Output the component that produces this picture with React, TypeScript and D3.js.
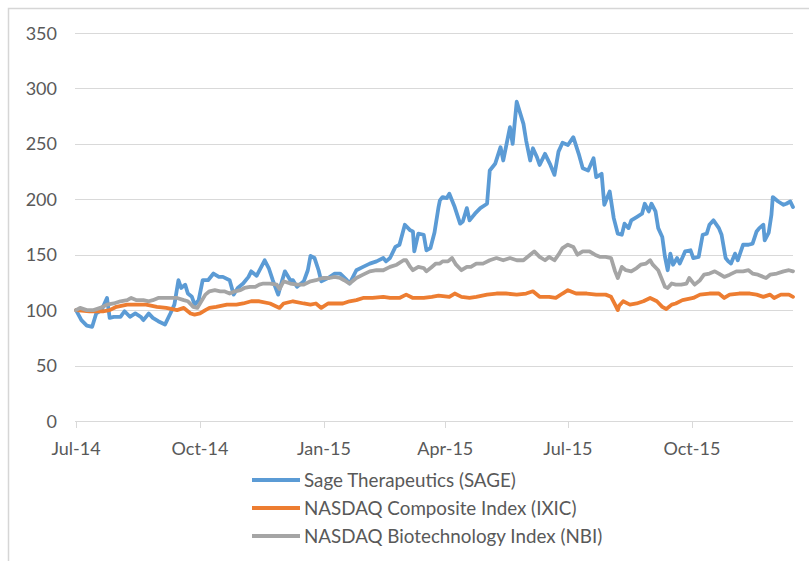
import * as d3 from 'd3';

// DATES
const startDate = new Date(2014, 6, 1);
const endDate = new Date(2015, 11, 15);

// SAGE THERAPEUTICS (days after Jul 1 2014, indexed value)
const sageDays = [
  0, 4, 8, 12, 15, 19, 23, 25, 28, 33, 36, 40, 44, 48, 50, 54, 57, 61, 66, 70,
  73, 76, 78, 81, 83, 86, 88, 91, 94, 98, 102, 106, 109, 114, 117, 120, 124, 128, 130, 134,
  140, 143, 146, 150, 153, 155, 159, 161, 164, 169, 172, 174, 177, 180, 182, 187, 192, 196, 201, 203,
  208, 213, 218, 223, 228, 230, 233, 237, 240, 244, 248, 250, 251, 254, 258, 260, 263, 266, 269, 270,
  272, 275, 277, 281, 285, 287, 290, 292, 296, 300, 305, 307, 311, 315, 317, 322, 324, 327, 329, 332,
  334, 337, 339, 342, 344, 348, 352, 355, 358, 361, 365, 369, 373, 376, 380, 384, 386, 390, 392, 396,
  399, 402, 405, 407, 410, 412, 416, 420, 422, 425, 427, 430, 432, 435, 437, 439, 441, 443, 446, 448,
  452, 456, 458, 462, 465, 468, 470, 473, 477, 479, 482, 484, 486, 489, 491, 495, 499, 502, 505, 507,
  510, 511, 514, 516, 517, 521, 525, 527, 530, 532,
];
const sageValues = [
  100, 91, 86, 85, 97, 100, 111, 93, 94, 94, 99, 94, 97, 94, 91, 97, 93, 90, 87, 97,
  105, 127, 120, 123, 115, 112, 105, 109, 127, 127, 133, 130, 130, 127, 114, 120, 124, 130, 135, 131,
  145, 138, 127, 114, 127, 135, 127, 127, 121, 126, 136, 149, 147, 136, 126, 129, 133, 133, 127, 124,
  136, 139, 142, 144, 147, 144, 147, 157, 159, 177, 172, 171, 153, 169, 168, 154, 156, 170, 193, 199,
  202, 201, 205, 193, 178, 180, 192, 181, 187, 192, 196, 226, 232, 247, 235, 265, 250, 288, 280, 268,
  253, 235, 246, 238, 231, 241, 231, 222, 243, 251, 249, 256, 241, 228, 226, 237, 220, 223, 195, 207,
  183, 169, 168, 178, 174, 181, 184, 187, 196, 189, 196, 189, 174, 166, 148, 136, 151, 141, 147, 142,
  153, 154, 147, 148, 168, 169, 177, 181, 174, 168, 147, 144, 142, 151, 145, 159, 159, 160, 171, 174,
  177, 163, 170, 186, 202, 198, 195, 196, 198, 193,
];

// NASDAQ COMPOSITE
const ixicDays = [
  0, 10, 20, 25, 30, 38, 45, 52, 60, 67, 75, 80, 85, 88, 92, 96, 99, 104, 112, 119,
  124, 130, 136, 144, 151, 154, 161, 169, 174, 178, 182, 187, 193, 198, 203, 208, 213, 220, 228, 233,
  240, 245, 250, 258, 264, 269, 277, 281, 286, 292, 297, 305, 312, 319, 327, 334, 339, 344, 351, 356,
  361, 365, 371, 379, 386, 393, 397, 400, 402, 403, 406, 411, 416, 421, 426, 431, 435, 438, 442, 445,
  450, 458, 463, 470, 477, 481, 485, 492, 500, 505, 510, 515, 518, 523, 529, 532,
];
const ixicValues = [
  100, 99, 99, 100, 103, 105, 105, 105, 103, 102, 100, 102, 97, 96, 97, 100, 102, 103, 105, 105,
  106, 108, 108, 106, 102, 106, 108, 106, 105, 106, 102, 106, 106, 106, 108, 109, 111, 111, 112, 111,
  111, 114, 111, 111, 112, 113, 112, 115, 112, 111, 112, 114, 115, 115, 114, 115, 117, 112, 112, 111,
  115, 118, 115, 115, 114, 114, 112, 105, 100, 104, 108, 105, 106, 108, 111, 108, 103, 101, 105, 106,
  109, 111, 114, 115, 115, 111, 114, 115, 115, 114, 112, 114, 111, 114, 114, 112,
];

// NASDAQ BIOTECHNOLOGY
const nbiDays = [
  0, 3, 8, 13, 18, 23, 28, 33, 38, 41, 45, 50, 54, 57, 61, 66, 70, 75, 80, 83,
  87, 90, 92, 96, 99, 103, 107, 110, 114, 118, 122, 125, 129, 133, 136, 139, 144, 149, 151, 154,
  159, 164, 169, 174, 178, 183, 188, 192, 196, 199, 203, 208, 213, 218, 223, 228, 233, 238, 243, 245,
  248, 250, 254, 258, 260, 264, 267, 270, 272, 276, 279, 282, 286, 290, 293, 297, 302, 307, 312, 317,
  322, 327, 332, 337, 340, 344, 348, 351, 355, 358, 361, 365, 369, 372, 376, 381, 385, 389, 393, 397,
  400, 402, 405, 408, 412, 416, 419, 423, 426, 428, 432, 434, 437, 439, 442, 445, 449, 453, 455, 459,
  463, 466, 470, 474, 477, 481, 485, 490, 495, 499, 502, 506, 510, 512, 515, 520, 525, 529, 532,
];
const nbiValues = [
  100, 102, 100, 100, 102, 105, 106, 108, 109, 111, 109, 109, 108, 109, 111, 111, 111, 111, 109, 108,
  103, 102, 106, 114, 117, 118, 117, 117, 115, 117, 118, 120, 121, 121, 123, 124, 124, 123, 119, 126,
  124, 123, 123, 126, 127, 129, 129, 130, 129, 127, 124, 129, 132, 135, 136, 136, 139, 141, 145, 145,
  139, 136, 139, 138, 135, 139, 142, 142, 144, 144, 147, 141, 136, 139, 139, 142, 142, 145, 147, 145,
  147, 145, 145, 150, 153, 148, 145, 148, 145, 150, 156, 159, 157, 150, 153, 153, 150, 148, 148, 147,
  135, 129, 139, 136, 135, 138, 141, 142, 145, 141, 136, 130, 121, 120, 124, 123, 123, 124, 129, 123,
  127, 132, 133, 135, 133, 130, 132, 135, 135, 136, 133, 132, 130, 129, 132, 133, 135, 136, 135,
];

// AXIS TICKS
const yTicks = [0, 50, 100, 150, 200, 250, 300, 350];
const xTickDates = [
  new Date(2014, 6, 1),
  new Date(2014, 9, 1),
  new Date(2015, 0, 1),
  new Date(2015, 3, 1),
  new Date(2015, 6, 1),
  new Date(2015, 9, 1),
];
const xTickLabels = ['Jul-14', 'Oct-14', 'Jan-15', 'Apr-15', 'Jul-15', 'Oct-15'];

const series = [
  { name: 'Sage Therapeutics (SAGE)', days: sageDays, values: sageValues, color: '#5B9BD5' },
  { name: 'NASDAQ Composite Index (IXIC)', days: ixicDays, values: ixicValues, color: '#ED7D31' },
  { name: 'NASDAQ Biotechnology Index (NBI)', days: nbiDays, values: nbiValues, color: '#A5A5A5' },
];

export default function App() {
  const width = 809;
  const height = 561;
  const font = 'Lato, "Open Sans", sans-serif';
  const textColor = '#595959';
  const gridColor = '#d9d9d9';

  const xScale = d3.scaleTime().domain([startDate, endDate]).range([76, 793]);
  const yScale = d3.scaleLinear().domain([0, 350]).range([421, 33]);

  const line = d3
    .line<[Date, number]>()
    .x((d) => xScale(d[0]))
    .y((d) => yScale(d[1]));

  return (
    <svg
      width={width}
      height={height}
      style={{ position: 'absolute', left: 0, top: 0, background: '#fff' }}
    >
      <rect x={8.5} y={8.5} width={830} height={600} fill="#fff" stroke="#d6d6d6" strokeWidth={1.5} />

      {/* gridlines */}
      {yTicks.map((t) => (
        <line
          key={t}
          x1={75}
          x2={793}
          y1={Math.round(yScale(t)) + 0.5}
          y2={Math.round(yScale(t)) + 0.5}
          stroke={gridColor}
          strokeWidth={1}
        />
      ))}
      {yTicks.map((t) => (
        <text
          key={'l' + t}
          x={57}
          y={yScale(t) + 6.5}
          textAnchor="end"
          fontFamily={font}
          fontSize={18}
          fill={textColor}
        >
          {t}
        </text>
      ))}

      {/* x ticks */}
      {xTickDates.map((d, i) => (
        <g key={xTickLabels[i]}>
          <line
            x1={Math.round(xScale(d)) + 0.5}
            x2={Math.round(xScale(d)) + 0.5}
            y1={421}
            y2={428}
            stroke={gridColor}
          />
          <text
            x={xScale(d)}
            y={455}
            textAnchor="middle"
            fontFamily={font}
            fontSize={18}
            fill={textColor}
          >
            {xTickLabels[i]}
          </text>
        </g>
      ))}

      {/* lines */}
      {series.map((s) => (
        <path
          key={s.name}
          d={line(
            s.days.map((day, i) => [d3.timeDay.offset(startDate, day), s.values[i]] as [Date, number]),
          ) ?? ''}
          fill="none"
          stroke={s.color}
          strokeWidth={3.8}
          strokeLinejoin="round"
          strokeLinecap="round"
        />
      ))}

      {/* legend */}
      {series.map((s, i) => (
        <g key={'lg' + s.name} transform={`translate(252, ${480 + i * 28})`}>
          <line x1={0} x2={48} y1={0} y2={0} stroke={s.color} strokeWidth={4} />
          <text x={52} y={6.8} fontFamily={font} fontSize={18.8} fill={textColor}>
            {s.name}
          </text>
        </g>
      ))}
    </svg>
  );
}
